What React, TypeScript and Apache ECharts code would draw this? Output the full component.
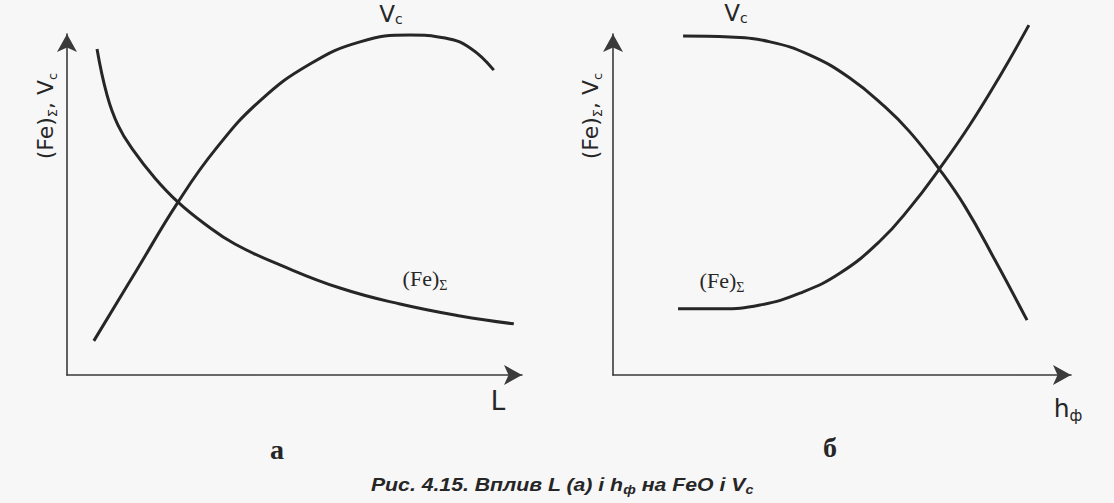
import React, { useEffect, useRef } from "react";
import * as echarts from "echarts";

// Panel "а": influence of L
const vcAX = [5.9, 15.2, 24.4, 32.7, 42.4, 53.4, 64.4, 75.4, 83.1, 88.6, 93.8];
const vcAY = [10.0, 30.5, 50.7, 66.3, 80.4, 91.2, 97.7, 99.7, 98.8, 95.9, 89.4];
const feAX = [6.6, 8.8, 11.2, 14.5, 19.3, 24.4, 30.3, 36.9, 46.8, 60.0, 73.2, 86.4, 98.2];
const feAY = [95.6, 82.1, 73.3, 66.0, 57.8, 50.7, 44.3, 38.4, 32.3, 25.5, 20.8, 17.3, 15.0];
// Panel "б": influence of h_ф
const vcBX = [15.3, 25.5, 34.3, 43.0, 51.7, 59.4, 64.8, 71.4, 76.9, 83.4, 90.4];
const vcBY = [99.4, 99.1, 97.7, 93.8, 87.1, 78.6, 71.3, 60.1, 49.3, 33.7, 16.1];
const feBX = [14.2, 23.4, 32.1, 40.8, 49.6, 58.3, 64.8, 71.4, 77.9, 84.5, 90.8];
const feBY = [19.4, 19.4, 20.5, 24.0, 29.9, 39.3, 49.0, 60.7, 73.3, 87.7, 102.6];

const panelLabels = ["а", "б"];
const xNames = ["L", "h"];
const xNameSubs = ["", "ф"];
const caption = ["Рис. 4.15. Вплив L (а) і h", "ф", " на FeO і V", "c"];

const zip = (xs: number[], ys: number[]) => xs.map((x, i) => [x, ys[i]]);

const INK = "#262626";
const AXIS = "#3a3a3a";
const SANS = "'DejaVu Sans', Verdana, sans-serif";
const SERIF = "'Liberation Serif', 'Times New Roman', serif";
const CAP = "'Liberation Sans', Arial, sans-serif";

export default function App() {
  const ref = useRef<HTMLDivElement>(null);
  useEffect(() => {
    if (!ref.current) return;
    const chart = echarts.init(ref.current, undefined, { renderer: "svg" });

    const axisX = (gridIndex: number) => ({
      type: "value" as const,
      gridIndex,
      min: 0,
      max: 100,
      axisLine: {
        show: true,
        symbol: ["none", "arrow"],
        symbolSize: [15, 18],
        lineStyle: { color: AXIS, width: 1.6 },
      },
      axisTick: { show: false },
      axisLabel: { show: false },
      splitLine: { show: false },
    });
    const axisY = (gridIndex: number) => ({ ...axisX(gridIndex) });

    const curve = (idx: number, data: number[][]) => ({
      type: "line" as const,
      xAxisIndex: idx,
      yAxisIndex: idx,
      data,
      smooth: 0.45,
      symbol: "none",
      clip: false,
      lineStyle: { color: INK, width: 3 },
      silent: true,
    });

    const vRich = {
      m: { fontSize: 23, fontFamily: SANS, color: INK, lineHeight: 24 },
      s: { fontSize: 14, fontFamily: SANS, color: INK, verticalAlign: "bottom", lineHeight: 12 },
    };
    const yRich = {
      m: { fontSize: 22, fontFamily: SANS, color: INK, lineHeight: 28 },
      s: { fontSize: 13, fontFamily: SANS, color: INK, verticalAlign: "bottom", lineHeight: 13 },
    };
    const feRich = {
      m: { fontSize: 22, fontFamily: SERIF, color: INK, lineHeight: 28 },
      s: { fontSize: 14, fontFamily: SERIF, color: INK, verticalAlign: "bottom", lineHeight: 14 },
    };

    const richText = (x: number, y: number, text: string, rich: any, rotation = 0, scaleX = 1) => ({
      type: "text",
      x,
      y,
      rotation,
      scaleX,
      silent: true,
      style: { text, rich, align: "center", verticalAlign: "middle", fill: INK },
    });

    chart.setOption({
      animation: false,
      backgroundColor: "#f7f7f7",
      grid: [
        { left: 67, top: 34, width: 455, height: 341 },
        { left: 613, top: 34, width: 458, height: 341 },
      ],
      xAxis: [axisX(0), axisX(1)],
      yAxis: [axisY(0), axisY(1)],
      series: [
        curve(0, zip(vcAX, vcAY)),
        curve(0, zip(feAX, feAY)),
        curve(1, zip(vcBX, vcBY)),
        curve(1, zip(feBX, feBY)),
      ],
      graphic: [
        richText(391, 14, "{m|V}{s|c}", vRich),
        richText(736, 13, "{m|V}{s|c}", vRich),
        richText(45, 116, "{m|(Fe)}{s|Σ}{m|, V}{s|c}", yRich, Math.PI / 2),
        richText(590, 116, "{m|(Fe)}{s|Σ}{m|, V}{s|c}", yRich, Math.PI / 2),
        richText(425, 278, "{m|(Fe)}{s|Σ}", feRich),
        richText(722, 280, "{m|(Fe)}{s|Σ}", feRich),
        richText(498, 401, `{m|${xNames[0]}}`, { m: { fontSize: 26, fontFamily: SANS, color: INK } }),
        richText(1068, 408, `{m|${xNames[1]}}{s|${xNameSubs[1]}}`, {
          m: { fontSize: 25, fontFamily: SANS, color: INK, lineHeight: 30 },
          s: { fontSize: 15, fontFamily: SANS, color: INK, verticalAlign: "bottom", lineHeight: 15 },
        }),
        richText(277, 449, `{m|${panelLabels[0]}}`, { m: { fontSize: 28, fontFamily: SERIF, fontWeight: "bold", color: INK } }),
        richText(830, 447, `{m|${panelLabels[1]}}`, { m: { fontSize: 28, fontFamily: SERIF, fontWeight: "bold", color: INK } }),
        richText(562, 485, `{m|${caption[0]}}{s|${caption[1]}}{m|${caption[2]}}{s|${caption[3]}}`, {
          m: { fontSize: 18, fontFamily: CAP, fontWeight: "bold", fontStyle: "italic", color: "#333", lineHeight: 22 },
          s: { fontSize: 12, fontFamily: CAP, fontWeight: "bold", fontStyle: "italic", color: "#333", verticalAlign: "bottom", lineHeight: 12 },
        }, 0, 1.18),
      ],
    });
    return () => chart.dispose();
  }, []);
  return (
    <div
      ref={ref}
      style={{ position: "absolute", left: 0, top: 0, width: 1114, height: 503 }}
    />
  );
}
